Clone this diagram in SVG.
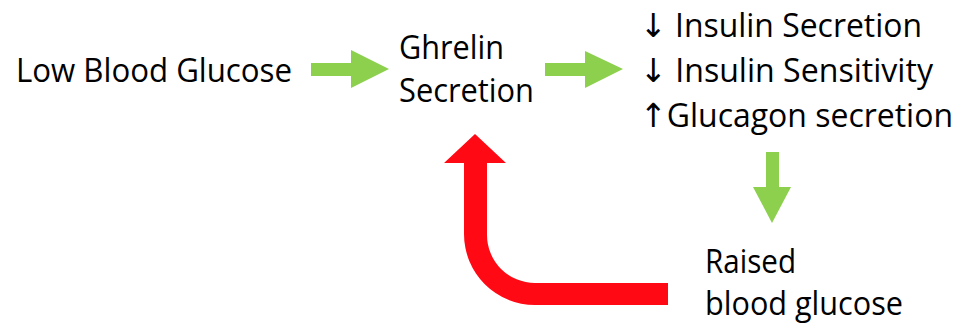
<svg xmlns="http://www.w3.org/2000/svg" width="962" height="324" viewBox="0 0 962 324">
  <style>
    .t { font-family: "Open Sans", "Noto Sans", "DejaVu Sans", sans-serif; font-size: 33px; fill: #000; }
    .g { fill: #8CD04E; }
    .r { fill: #FF0A14; }
  </style>
  <rect width="962" height="324" fill="#fff"/>
  <g id="connectors">
    <polygon class="g" points="311,63 351,63 351,50 389,69 351,88 351,76 311,76"/>
    <polygon class="g" points="545,63 585,63 585,51 623,69 585,88 585,76 545,76"/>
    <polygon class="g" points="766,152 779,152 779,187 791,187 772,223 753,187 766,187"/>
    <path class="r" d="M668,283 L535,283 A48,48 0 0 1 487,235 L487,163 L506,163 L475,134 L444,163 L464,163 L464,234 A71,71 0 0 0 535,305 L668,305 Z"/>
  </g>
  <g id="low">
    <text class="t" x="16" y="82" textLength="276" lengthAdjust="spacingAndGlyphs">Low Blood Glucose</text>
  </g>
  <g id="ghrelin">
    <text class="t" x="399" y="59" textLength="105" lengthAdjust="spacingAndGlyphs">Ghrelin</text>
    <text class="t" x="399" y="102" textLength="135" lengthAdjust="spacingAndGlyphs">Secretion</text>
  </g>
  <g id="effects">
    <text class="t" x="640" y="37" textLength="282" lengthAdjust="spacingAndGlyphs">↓ Insulin Secretion</text>
    <text class="t" x="640" y="82" textLength="293" lengthAdjust="spacingAndGlyphs">↓ Insulin Sensitivity</text>
    <text class="t" x="640" y="127" textLength="313" lengthAdjust="spacingAndGlyphs">↑Glucagon secretion</text>
  </g>
  <g id="raised">
    <text class="t" x="705" y="273" textLength="91" lengthAdjust="spacingAndGlyphs">Raised</text>
    <text class="t" x="705" y="315" textLength="198" lengthAdjust="spacingAndGlyphs">blood glucose</text>
  </g>
</svg>
